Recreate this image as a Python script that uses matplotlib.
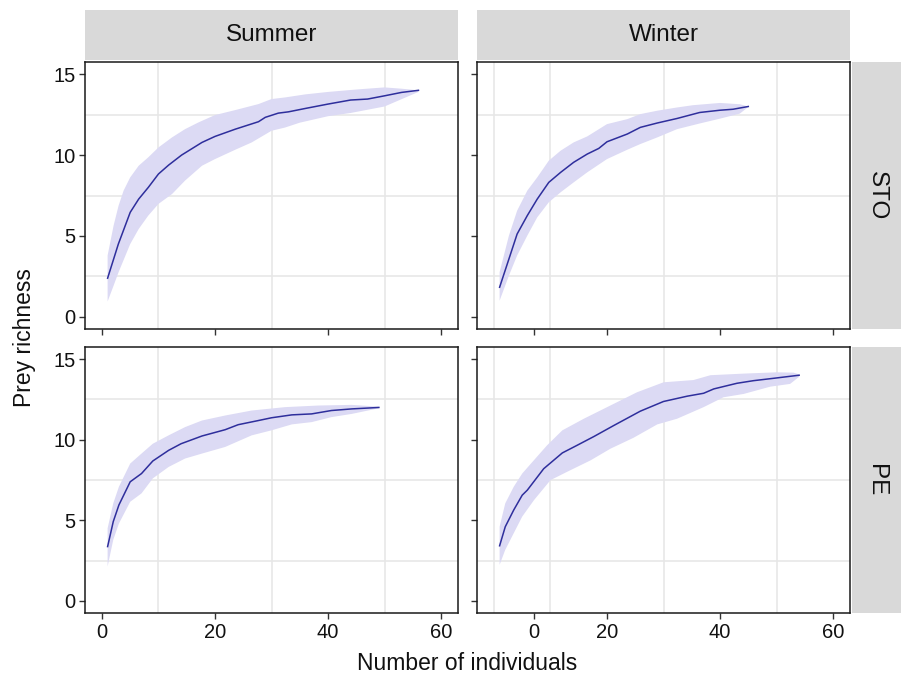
import numpy as np
import matplotlib
matplotlib.use("Agg")
import matplotlib.pyplot as plt

plt.rcParams['font.family'] = ['Liberation Sans', 'DejaVu Sans']

seasons = ["Summer", "Winter"]
sites = ["STO", "PE"]

# ---- Summer / STO ----
sto_sum_x = [1, 2.9, 5, 6.5, 8.2, 10, 11.8, 14.1, 17.7, 20, 23.6, 27.7, 28.9, 31.2, 33, 36, 40, 44, 47, 50, 53, 56]
sto_sum_y = [2.39, 4.5, 6.46, 7.28, 8.0, 8.83, 9.38, 10.0, 10.78, 11.15, 11.6, 12.06, 12.33, 12.59, 12.67, 12.88, 13.15, 13.4, 13.46, 13.66, 13.87, 14.0]
sto_sum_up_x = [1, 2.06, 2.94, 3.83, 5, 6.5, 8.2, 10, 12.4, 14.7, 17.1, 20, 23.6, 27.7, 30, 32.4, 36, 40, 45, 50, 53, 56]
sto_sum_up = [3.79, 5.64, 6.87, 7.8, 8.62, 9.34, 9.86, 10.47, 11.09, 11.6, 12.02, 12.47, 12.78, 13.15, 13.46, 13.56, 13.75, 13.9, 14.05, 14.18, 14.1, 14.0]
sto_sum_lo_x = [1, 2.06, 2.94, 5, 6.5, 8.2, 10, 12.4, 14.7, 17.7, 20, 23.6, 26.5, 30, 32.4, 35, 40, 44, 50, 53, 56]
sto_sum_lo = [0.95, 1.93, 2.76, 4.5, 5.43, 6.26, 6.98, 7.59, 8.42, 9.34, 9.75, 10.33, 10.78, 11.5, 11.7, 12.0, 12.4, 12.6, 13.0, 13.45, 13.9]

# ---- Winter / STO ----
sto_win_x = [1, 2.65, 4.1, 5.9, 7.66, 9.7, 11.8, 14.1, 16.5, 18.55, 20, 23.6, 25.9, 28.9, 32.4, 36.4, 40, 42.3, 45]
sto_win_y = [1.83, 3.58, 5.12, 6.26, 7.28, 8.31, 8.93, 9.55, 10.06, 10.41, 10.82, 11.3, 11.71, 11.98, 12.26, 12.63, 12.77, 12.83, 13.0]
sto_win_up_x = [1, 2.65, 4.1, 5.9, 7.66, 9.7, 11.8, 14.1, 16.5, 20, 23.6, 25.9, 28.9, 32.4, 35.2, 40, 43.5, 45]
sto_win_up = [2.76, 5.02, 6.56, 7.8, 8.62, 9.65, 10.27, 10.78, 11.15, 11.91, 12.22, 12.53, 12.74, 12.94, 13.08, 13.22, 13.14, 13.0]
sto_win_lo_x = [1, 2.65, 4.1, 5.9, 7.66, 9.7, 11.8, 14.1, 16.5, 20, 23.6, 25.9, 28.9, 32.4, 36.4, 40, 43.5, 45]
sto_win_lo = [1.0, 2.55, 3.79, 5.02, 6.15, 7.08, 7.7, 8.31, 8.93, 9.75, 10.33, 10.68, 11.09, 11.6, 11.95, 12.25, 12.56, 12.97]

# ---- Summer / PE ----
pe_sum_x = [1, 2, 3, 5, 7, 9, 11.8, 14, 17.7, 21.8, 24.1, 27.7, 30, 33.6, 37.1, 40.6, 44.2, 49]
pe_sum_y = [3.37, 4.92, 5.95, 7.39, 7.9, 8.68, 9.34, 9.75, 10.23, 10.62, 10.93, 11.19, 11.36, 11.54, 11.6, 11.81, 11.91, 12.0]
pe_sum_up_x = [1, 2, 3, 5, 7, 9, 11.8, 14.7, 17.7, 21.8, 26.5, 32.4, 38.3, 44.2, 49]
pe_sum_up = [4.5, 6.05, 7.08, 8.52, 9.14, 9.75, 10.27, 10.78, 11.19, 11.5, 11.81, 12.02, 12.12, 12.16, 12.05]
pe_sum_lo_x = [1, 2, 3, 5, 7, 9, 11.8, 14.7, 17.7, 21.8, 26.5, 30, 33.6, 37.1, 40.6, 44.2, 49]
pe_sum_lo = [2.14, 3.79, 4.8, 6.15, 6.67, 7.6, 8.31, 8.83, 9.14, 9.55, 10.27, 10.58, 10.95, 11.09, 11.4, 11.6, 11.95]

# ---- Winter / PE ----
pe_win_x = [1, 2, 3.5, 5, 5.9, 8.8, 12.1, 14.7, 17.7, 21.2, 25.9, 30, 34.2, 37.1, 38.9, 43, 45.9, 50, 54]
pe_win_y = [3.42, 4.6, 5.64, 6.56, 6.87, 8.2, 9.18, 9.65, 10.2, 10.88, 11.77, 12.37, 12.7, 12.88, 13.15, 13.5, 13.66, 13.83, 14.0]
pe_win_up_x = [1, 2, 3.5, 5, 6.5, 9.4, 12.1, 15.9, 20.6, 25.3, 30, 35.3, 38.3, 44.2, 50, 53, 54]
pe_win_up = [4.6, 6.05, 7.08, 7.9, 8.5, 9.65, 10.58, 11.3, 12.12, 12.94, 13.56, 13.7, 14.0, 14.1, 14.18, 14.16, 14.05]
pe_win_lo_x = [1, 2, 3.5, 5, 7.1, 10, 12.9, 17.1, 20.6, 24.7, 28.9, 32.4, 37.1, 40.6, 44.2, 48.9, 52.4, 54]
pe_win_lo = [2.24, 3.17, 4.2, 5.23, 6.26, 7.49, 8.0, 8.72, 9.44, 10.12, 10.95, 11.3, 12.02, 12.63, 12.84, 13.29, 13.46, 13.9]

panels = {
    ("STO", "Summer"): (sto_sum_x, sto_sum_y, sto_sum_up_x, sto_sum_up, sto_sum_lo_x, sto_sum_lo),
    ("STO", "Winter"): (sto_win_x, sto_win_y, sto_win_up_x, sto_win_up, sto_win_lo_x, sto_win_lo),
    ("PE", "Summer"): (pe_sum_x, pe_sum_y, pe_sum_up_x, pe_sum_up, pe_sum_lo_x, pe_sum_lo),
    ("PE", "Winter"): (pe_win_x, pe_win_y, pe_win_up_x, pe_win_up, pe_win_lo_x, pe_win_lo),
}

# tick positions / labels
y_ticks = [0, 5, 10, 15]
y_tick_labels = ["0", "5", "10", "15"]
y_grid = [0, 2.5, 5, 7.5, 10, 12.5, 15]
x_grid = [0, 10, 20, 30, 40, 50, 60]
x_ticks = {"Summer": [0, 20, 40, 60], "Winter": [7, 20, 40, 60]}
x_tick_labels = ["0", "20", "40", "60"]

W, H = 901, 679
fig = plt.figure(figsize=(W / 100, H / 100), dpi=100)

def frac(x0, y0, x1, y1):
    return [x0 / W, 1 - y1 / H, (x1 - x0) / W, (y1 - y0) / H]

col_x = {"Summer": (85, 458), "Winter": (477, 850)}
row_y = {"STO": (62, 329), "PE": (347, 613)}

band_color = "#DCDAF4"
line_color = "#2E2E9C"
text_color = "#111111"
strip_color = "#D9D9D9"

for site in sites:
    for season in seasons:
        x0, x1 = col_x[season]
        y0, y1 = row_y[site]
        ax = fig.add_axes(frac(x0, y0, x1, y1))
        lx, ly, ux, uy, dx, dy = panels[(site, season)]
        ax.fill(np.concatenate([ux, dx[::-1]]), np.concatenate([uy, dy[::-1]]),
                color=band_color, lw=0, zorder=2)
        ax.plot(lx, ly, color=line_color, lw=1.1, zorder=3)
        ax.set_xlim(-3, 63)
        ax.set_ylim(-0.75, 15.75)
        ax.set_xticks(x_grid, minor=True)
        ax.set_yticks(y_grid, minor=True)
        ax.grid(which="minor", color="#E6E6E6", lw=1.1, zorder=0)
        ax.set_axisbelow(True)
        ax.tick_params(which="minor", length=0)
        ax.set_xticks(x_ticks[season])
        ax.set_yticks(y_ticks)
        ax.tick_params(which="major", length=4, width=1, color="#333333",
                       labelsize=14.5, labelcolor=text_color, pad=3)
        if site == "PE":
            ax.set_xticklabels(x_tick_labels)
        else:
            ax.set_xticklabels([])
        if season == "Summer":
            ax.set_yticklabels(y_tick_labels)
        else:
            ax.set_yticklabels([])
        for s in ax.spines.values():
            s.set_color("#1A1A1A")
            s.set_linewidth(1.1)

# top strips
for season in seasons:
    x0, x1 = col_x[season]
    sax = fig.add_axes(frac(x0, 10, x1, 60))
    sax.set_facecolor(strip_color)
    for s in sax.spines.values():
        s.set_visible(False)
    sax.set_xticks([]); sax.set_yticks([])
    sax.text(0.5, 0.5, season, ha="center", va="center", fontsize=17.5,
             color=text_color, transform=sax.transAxes)

# right strips
for site in sites:
    y0, y1 = row_y[site]
    sax = fig.add_axes(frac(852, y0, 901, y1))
    sax.set_facecolor(strip_color)
    for s in sax.spines.values():
        s.set_visible(False)
    sax.set_xticks([]); sax.set_yticks([])
    sax.text(0.5, 0.5, site, ha="center", va="center", fontsize=17.5,
             color=text_color, rotation=-90, transform=sax.transAxes)

fig.text(467 / W, 1 - 664 / H, "Number of individuals", ha="center", va="center",
         fontsize=16.5, color=text_color)
fig.text(25 / W, 1 - 338 / H, "Prey richness", ha="center", va="center",
         fontsize=16.5, color=text_color, rotation=90)

fig.savefig("out.png", dpi=100)
